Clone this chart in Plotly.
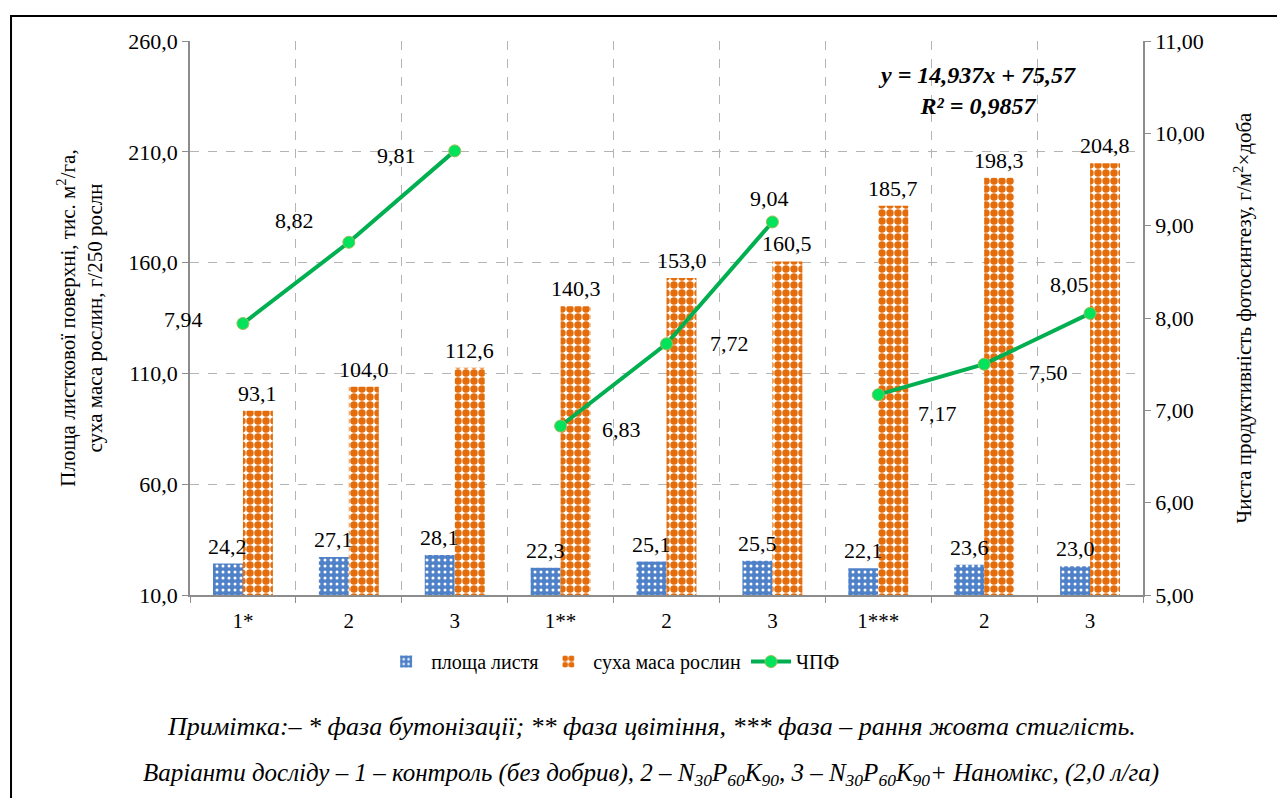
import plotly.graph_objects as go

categories = ["1*", "2", "3", "1**", "2", "3", "1***", "2", "3"]
leaf_area = [24.2, 27.1, 28.1, 22.3, 25.1, 25.5, 22.1, 23.6, 23.0]
dry_mass = [93.1, 104.0, 112.6, 140.3, 153.0, 160.5, 185.7, 198.3, 204.8]
npf = [7.94, 8.82, 9.81, 6.83, 7.72, 9.04, 7.17, 7.50, 8.05]
groups = [3, 3, 3]
npf_label_shift = [(-59, 4), (-54, 22), (-58, -5), (61, -3), (63, 0), (-3, 23), (59, -19), (64, -8), (-21, 29)]

FONT = "Liberation Serif, Times New Roman, DejaVu Serif, serif"
BAR_HALF_PX = 15  # label offset from group centre to each bar centre

def fmt(v, d):
    return f"{v:.{d}f}".replace(".", ",")

x_pos = list(range(len(categories)))

# line with gaps between phases
lx, ly = [], []
i = 0
for g in groups:
    lx += x_pos[i:i + g] + [None]
    ly += npf[i:i + g] + [None]
    i += g

fig = go.Figure()
fig.add_trace(go.Bar(
    x=x_pos, y=leaf_area, name="площа листя", offsetgroup="a",
    marker=dict(color="#4F81C8", line=dict(width=0),
                pattern=dict(shape=".", bgcolor="#4F81C8", fgcolor="white", size=6, solidity=0.2, fillmode="replace")),
))
fig.add_trace(go.Bar(
    x=x_pos, y=dry_mass, name="суха маса рослин", offsetgroup="b",
    marker=dict(color="#E46C0A", line=dict(width=0),
                pattern=dict(shape=".", bgcolor="white", fgcolor="#E46C0A", size=8, solidity=0.68, fillmode="replace")),
))
fig.add_trace(go.Scatter(
    x=lx, y=ly, name="ЧПФ", yaxis="y2", mode="lines+markers", connectgaps=False,
    line=dict(color="#00B050", width=4),
    marker=dict(size=12, color="#00E35A", line=dict(color="#9BBB59", width=1)),
    cliponaxis=False,
))

for xi, v in zip(x_pos, leaf_area):
    fig.add_annotation(x=xi, y=v, xref="x", yref="y", text=fmt(v, 1), showarrow=False,
                       xshift=-BAR_HALF_PX, yshift=3, yanchor="bottom",
                       font=dict(family=FONT, size=22, color="black"))
for xi, v in zip(x_pos, dry_mass):
    fig.add_annotation(x=xi, y=v, xref="x", yref="y", text=fmt(v, 1), showarrow=False,
                       xshift=BAR_HALF_PX, yshift=3, yanchor="bottom",
                       font=dict(family=FONT, size=22, color="black"))

for xi, v, (dx, dy) in zip(x_pos, npf, npf_label_shift):
    fig.add_annotation(x=xi, y=v, xref="x", yref="y2", text=fmt(v, 2), showarrow=False,
                       xshift=dx, yshift=dy, font=dict(family=FONT, size=22, color="black"))

fig.add_annotation(x=0.826, y=0.91, xref="paper", yref="paper", xanchor="center", yanchor="middle",
                   text="<b><i>y = 14,937x + 75,57</i></b><br><b><i>R² = 0,9857</i></b>",
                   showarrow=False, align="center", font=dict(family=FONT, size=24, color="black"))

fig.add_annotation(x=0.484, y=-0.267, xref="paper", yref="paper", showarrow=False, xanchor="center",
                   text="<i>Примітка:– * фаза бутонізації; ** фаза цвітіння, *** фаза – рання жовта стиглість.</i>",
                   font=dict(family=FONT, size=26, color="black"))
fig.add_annotation(x=0.484, y=-0.355, xref="paper", yref="paper", showarrow=False, xanchor="center",
                   text="<i>Варіанти досліду – 1 – контроль (без добрив), 2 – N<sub>30</sub>P<sub>60</sub>K<sub>90</sub>, 3 – N<sub>30</sub>P<sub>60</sub>K<sub>90</sub>+ Наномікс, (2,0 л/га)</i>",
                   font=dict(family=FONT, size=25, color="black"))

fig.add_shape(type="rect", xref="paper", yref="paper", x0=-0.1878, y0=-0.42, x1=1.16, y1=1.045,
              line=dict(color="black", width=2), layer="above")

fig.update_layout(
    width=1277, height=790,
    margin=dict(l=182, r=142, t=33, b=203),
    paper_bgcolor="white", plot_bgcolor="white",
    font=dict(family=FONT, size=21, color="black"),
    separators=", ",
    barmode="group", bargap=0.434, bargroupgap=0,
    showlegend=True,
    legend=dict(orientation="h", x=0.444, xanchor="center", y=-0.085, yanchor="top",
                font=dict(family=FONT, size=20), itemwidth=40, tracegroupgap=0),
    xaxis=dict(range=[-0.5, len(categories) - 0.5], tickmode="array", tickvals=x_pos, ticktext=categories,
               showgrid=False, ticks="", showline=True, linecolor="#8C8C8C", linewidth=1.5,
               tickfont=dict(family=FONT, size=21), zeroline=False, ticklabelstandoff=6,
               minor=dict(tickmode="array", tickvals=[p - 0.5 for p in x_pos] + [len(categories) - 0.5],
                          ticks="outside", ticklen=6, tickcolor="#8C8C8C",
                          showgrid=True, gridcolor="#B4B4B4", griddash="dash", gridwidth=1)),
    yaxis=dict(range=[10, 260], tickmode="linear", tick0=10, dtick=50, tickformat=".1f",
               showgrid=True, gridcolor="#B4B4B4", griddash="dash", gridwidth=1,
               showline=True, linecolor="#8C8C8C", linewidth=1.5, ticks="outside", ticklen=6, tickcolor="#8C8C8C",
               zeroline=False, tickfont=dict(family=FONT, size=22),
               title=dict(text="Площа листкової поверхні, тис. м<sup>2</sup>/га,<br>суха маса рослин, г/250 рослн",
                          font=dict(family=FONT, size=21), standoff=20)),
    yaxis2=dict(range=[5, 11], tickmode="linear", tick0=5, dtick=1, tickformat=".2f", overlaying="y", side="right",
                showgrid=False, showline=True, linecolor="#8C8C8C", linewidth=1.5, ticks="outside", ticklen=6,
                tickcolor="#8C8C8C", zeroline=False, tickfont=dict(family=FONT, size=22),
                title=dict(text="Чиста продуктивність фотосинтезу, г/м<sup>2</sup>×доба",
                           font=dict(family=FONT, size=21), standoff=33)),
)

fig.write_html("out.html")
